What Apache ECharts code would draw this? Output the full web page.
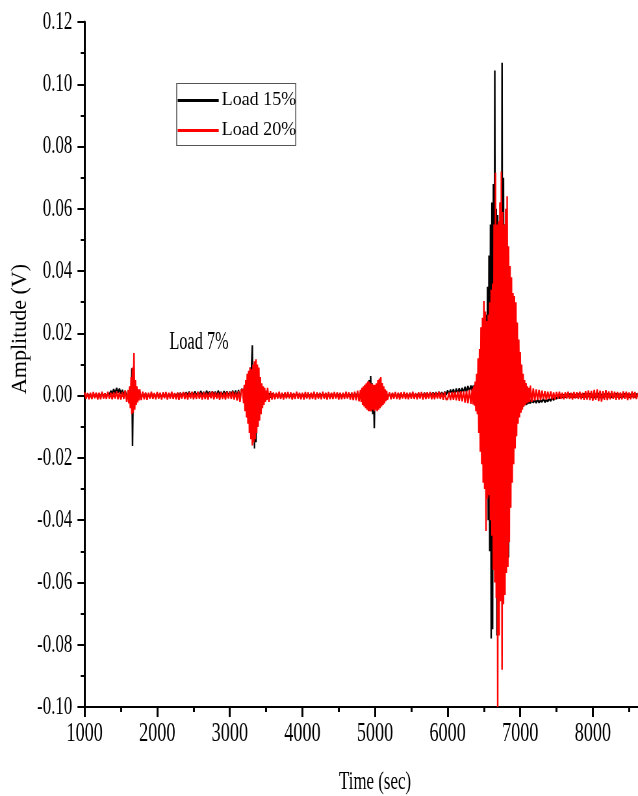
<!DOCTYPE html>
<html>
<head>
<meta charset="utf-8">
<script src="https://cdn.jsdelivr.net/npm/echarts@6/dist/echarts.min.js"></script>
<style>
  html, body { margin: 0; padding: 0; background: #fff; overflow: hidden; }
  #wrap { width: 638px; height: 796px; overflow: hidden; }
  /* the axis text is condensed horizontally: the chart is laid out wider and squeezed */
  #chart { width: 982px; height: 796px; transform-origin: 0 0; }
</style>
</head>
<body>
<div id="wrap"><div id="chart"></div></div>
<script>
// Coarse sampling grid of both recordings (sec)
const T_START = 1000;
const T_STEP = 20;
// Fine sampling used inside the emission bursts (sec)
const BURST_STEP = 10;
const BURST_START = { A: 1600, B: 3180, C: 4800, D: 6340 };

// Amplitudes in mV on the coarse grid (values inside burst windows are superseded by the fine ones)
const load15_mV = [
  0.5,-0.4,0.6,-0.3,0.4,-0.6,0.5,-0.2,0.6,-0.4,
  0.5,-0.3,0.7,-0.2,0.6,-0.4,0.8,0.2,1.5,0.6,
  2.0,0.8,2.4,1.0,2.2,0.6,1.8,0.2,1.5,-0.5,
  1.5,-2.0,8.8,-16.2,3.0,-2.0,1.2,-0.8,0.6,-0.4,
  0.5,-0.3,0.6,-0.4,0.4,-0.5,0.6,-0.2,0.5,-0.4,
  0.6,-0.3,0.5,-0.5,0.7,-0.2,0.4,-0.4,0.6,-0.3,
  0.5,-0.4,0.6,-0.2,0.7,0.0,0.8,-0.1,0.9,0.1,
  1.0,0.2,1.2,0.0,0.9,0.3,1.3,0.1,1.0,0.2,
  1.4,0.3,1.1,0.0,1.5,0.4,1.2,0.1,1.3,0.2,
  1.2,0.0,1.5,0.3,1.1,0.1,1.4,0.2,1.3,0.0,
  1.2,0.3,1.5,0.1,1.6,-0.5,1.8,-1.0,2.0,-1.5,
  3.0,-4.0,5.0,-7.0,-5.0,16.2,-12.0,9.0,-17.0,7.0,
  -10.0,5.0,-4.0,2.0,-1.5,1.0,-0.8,0.6,-0.5,0.4,
  0.5,-0.4,0.6,-0.3,0.4,-0.5,0.5,-0.2,0.6,-0.4,
  0.4,-0.5,0.6,-0.3,0.5,-0.4,0.7,-0.2,0.5,-0.5,
  0.6,-0.3,0.4,-0.5,0.6,-0.2,0.5,-0.4,0.6,-0.3,
  0.5,-0.4,0.7,-0.2,0.5,-0.5,0.6,-0.3,0.4,-0.4,
  0.6,-0.2,0.5,-0.4,0.7,-0.3,0.6,-0.5,0.5,-0.3,
  0.5,-0.4,0.6,-0.3,0.7,-0.5,0.8,-0.6,1.0,-0.8,
  -1.0,1.5,-2.0,2.5,-3.0,4.0,-4.5,6.3,2.0,-10.5,
  3.0,-4.0,2.0,-2.0,2.5,-2.0,1.5,-1.0,0.8,-0.6,
  0.5,-0.4,0.6,-0.3,0.5,-0.5,0.6,-0.2,0.4,-0.4,
  0.6,-0.3,0.5,-0.4,0.7,-0.2,0.6,-0.3,0.5,-0.2,
  0.7,-0.1,0.6,-0.2,0.8,0.0,0.7,-0.1,0.9,0.0,
  0.9,0.1,1.0,0.0,1.1,0.2,1.0,0.1,1.2,0.3,
  1.6,0.4,1.9,0.6,2.0,0.5,2.2,0.7,2.3,0.8,
  2.4,1.0,2.8,1.2,3.0,1.4,3.2,1.5,3.5,2.0,
  -2.0,8.0,-12.0,15.0,-20.0,22.0,-28.0,26.0,-30.0,55.0,
  -78.0,68.0,-40.0,104.4,-70.0,50.0,-45.0,60.0,106.9,-60.0,
  40.0,-52.0,31.0,-31.0,20.0,-15.0,12.0,-10.0,6.0,-6.0,
  3.0,-4.0,1.0,-3.0,-1.0,-2.5,-1.2,-2.4,-1.5,-2.2,
  -1.4,-2.3,-1.2,-2.2,-1.5,-2.0,-1.0,-2.1,-1.3,-1.8,
  -0.9,-1.7,-0.6,-1.4,-0.3,-1.0,0.0,-0.8,0.2,-0.6,
  0.3,-0.5,0.4,-0.3,0.5,-0.4,0.4,-0.5,0.3,-0.4,
  0.5,-0.3,0.4,-0.5,0.6,-0.4,0.5,-0.3,0.6,-0.5,
  0.4,-0.6,0.5,-0.4,0.7,-0.5,0.4,-0.6,0.5,-0.3,
  0.6,-0.4,0.5,-0.5,0.4,-0.3,0.6,-0.4,0.5,-0.5,
  0.4,-0.4,0.6,-0.3,0.5,-0.5,0.4,-0.3,0.5,-0.4,
  0.5,-0.3
];

const load20_mV = [
  1.0,-0.9,0.8,-1.1,0.9,-1.0,1.1,-0.8,0.9,-1.2,
  0.9,-1.1,1.2,-0.9,0.7,-1.0,1.2,-0.9,0.9,-1.1,
  1.0,-0.9,1.3,-1.1,1.0,-1.2,1.1,-1.0,1.6,-2.0,
  3.0,-5.0,6.0,-6.0,13.7,-4.5,4.0,-2.5,2.0,-1.4,
  1.2,-1.1,1.0,-1.3,0.9,-0.9,1.2,-1.0,0.8,-1.1,
  1.1,-0.9,0.9,-1.2,1.0,-0.8,1.1,-1.2,0.9,-0.9,
  1.2,-1.0,0.8,-1.1,1.0,-1.3,0.9,-0.9,1.1,-1.0,
  0.9,-1.2,1.0,-0.9,1.2,-1.1,0.8,-1.0,1.2,-0.9,
  0.9,-1.2,1.1,-1.0,0.9,-1.2,1.0,-0.8,1.3,-1.1,
  1.0,-0.9,0.9,-1.3,1.1,-1.0,0.9,-1.2,1.2,-0.9,
  1.1,-1.0,1.3,-1.2,1.0,-1.5,1.4,-2.0,1.8,-2.4,
  3.5,-5.0,7.0,-9.0,9.0,-12.0,6.0,-16.0,11.7,-12.0,
  9.0,-8.0,6.0,-5.0,4.0,-3.0,2.5,-2.0,1.4,-1.2,
  1.0,-1.1,0.9,-0.9,1.2,-1.0,0.9,-1.2,1.0,-0.9,
  1.1,-0.9,1.0,-1.2,0.8,-1.0,1.2,-0.9,0.9,-1.1,
  0.9,-1.2,1.1,-0.9,1.0,-1.1,0.9,-1.0,1.2,-1.2,
  1.0,-0.9,0.8,-1.1,1.2,-0.9,0.9,-1.2,1.1,-1.0,
  0.9,-1.0,1.1,-0.9,1.0,-1.2,0.9,-1.1,0.9,-1.0,
  1.2,-0.9,1.0,-1.2,1.0,-1.4,1.2,-1.5,1.6,-1.8,
  2.0,-2.5,2.8,-3.5,3.5,-4.5,4.5,-5.0,4.0,-4.5,
  3.0,-5.0,4.0,-3.5,6.0,-3.0,3.0,-2.2,1.6,-1.3,
  1.0,-1.1,0.9,-0.9,1.1,-1.0,0.9,-1.2,1.0,-0.9,
  1.1,-1.0,0.9,-1.1,0.9,-0.9,1.2,-1.0,0.8,-1.1,
  1.0,-0.9,1.1,-1.2,0.9,-1.0,1.0,-0.9,1.1,-1.1,
  0.9,-1.1,1.0,-0.9,1.2,-1.0,0.9,-1.3,1.1,-1.2,
  -1.1,1.0,-1.4,1.1,-1.3,1.2,-1.5,1.3,-1.6,1.4,
  -1.8,1.4,-2.2,1.5,-2.4,1.8,-2.6,2.3,-3.0,4.5,
  -6.0,12.0,-18.0,22.0,-28.0,30.4,-43.5,25.0,-32.0,36.0,
  -40.0,50.0,-56.0,71.6,-100.0,55.0,-66.0,72.0,-88.0,59.0,
  -67.0,64.0,-57.0,41.6,-47.0,40.0,-28.0,32.0,-20.0,23.5,
  -11.0,16.5,-6.5,8.0,-3.5,5.3,-2.5,3.2,-2.0,2.3,
  -1.6,2.0,-1.3,1.8,-1.4,1.6,-1.1,1.4,-1.3,1.2,
  -1.0,1.3,-1.1,1.0,-1.2,1.1,-0.9,1.2,-1.0,0.9,
  -1.1,1.0,-0.9,1.2,-1.0,0.9,-1.2,1.1,-0.9,1.0,
  -1.0,1.2,-1.1,0.9,-1.3,1.4,-1.2,1.6,-1.4,1.5,
  -1.6,1.8,-1.3,2.0,-1.7,1.6,-1.9,1.4,-1.3,1.7,
  -1.4,1.3,-1.1,1.5,-1.0,1.2,-1.3,1.1,-1.2,1.0,
  -1.1,1.3,-1.0,1.2,-1.4,1.0,-1.1,1.3,-0.9,1.1,
  -1.0,0.9
];

// Fine-grid burst samples, mV
const load15_A = [-0.5,1.5,-1.0,2.0,-2.0,8.8,-16.2,3.5,-3.0,2.0,-2.0,1.2,-1.0,0.8,-0.6,0.5];
const load20_A = [1.8,-2.5,3.0,-4.0,6.0,-6.0,9.0,-5.5,13.7,-4.5,5.0,-3.0,3.0,-2.2,2.0,-1.5];

const load15_B = [
  1.8,-1.0,3.0,-3.0,4.0,-5.0,5.0,-7.0,7.0,-8.0,9.0,-6.0,10.0,16.2,-12.0,9.0,-17.0,
  8.0,-15.0,7.0,-10.0,6.0,-8.0,5.0,-5.0,3.5,-3.0,2.5,-2.0,1.5,-1.2,1.0,-0.8,0.6
];
const load20_B = [
  1.8,-2.4,3.5,-5.0,5.0,-7.0,7.0,-9.0,8.0,-12.0,9.0,-14.0,8.5,-16.0,10.0,-15.0,11.0,
  -14.0,11.7,-12.0,10.0,-10.0,9.0,-8.0,6.0,-6.0,4.0,-4.0,3.0,-3.0,2.5,-2.0,1.6,-1.4
];

const load15_C = [
  0.8,-1.0,1.5,-1.5,2.0,-2.0,2.5,-2.5,3.0,-3.5,4.0,-4.0,5.0,-4.5,6.3,-5.0,4.0,-6.0,3.0,
  -10.5,3.0,-4.0,2.5,-3.0,2.0,-2.5,2.0,-2.0,1.8,-1.5,1.5,-1.2,1.0,-0.8,0.8,-0.6,0.6,-0.5
];
const load20_C = [
  1.8,-2.0,2.5,-3.0,3.0,-3.5,3.5,-4.0,4.0,-4.5,4.5,-5.0,4.5,-5.0,4.0,-5.0,3.8,-4.5,3.5,
  -5.0,3.5,-4.5,4.0,-5.0,5.0,-4.5,5.5,-4.0,6.0,-3.5,4.0,-3.0,3.0,-2.5,2.0,-1.8,1.5,-1.3
];

const load15_D = [
  1.4,3.2,1.5,3.4,1.0,4.0,-2.0,6.0,-5.0,8.0,
  -12.0,12.0,-15.0,15.0,-20.0,18.0,-25.0,22.0,-28.0,26.0,
  -30.0,35.0,-40.0,45.0,-50.0,55.0,-78.0,62.0,-75.0,68.0,
  -45.0,104.4,-50.0,60.0,-77.0,58.0,-60.0,55.0,-55.0,62.0,
  -55.0,106.9,-60.0,70.0,-55.0,55.0,-50.0,45.0,-45.0,31.0,
  -52.0,31.0,-31.0,25.0,-20.0,20.0,-15.0,15.0,-12.0,12.0,
  -10.0,8.0,-8.0,6.0,-6.0,4.0,-5.0,3.0,-4.0,1.0,
  -3.5,0.0,-3.0,-0.5,-3.0,-1.0,-2.8,-1.0,-2.5,-1.2
];
const load20_D = [
  2.2,-2.8,3.0,-3.2,4.5,-5.0,7.0,-6.0,12.0,-12.0,
  15.0,-18.0,22.0,-22.0,25.0,-28.0,30.4,-30.0,27.0,-43.5,
  24.0,-33.0,26.0,-32.0,30.0,-40.0,34.0,-45.0,36.0,-56.0,
  55.0,-60.0,71.6,-65.0,55.0,-100.0,56.0,-77.0,62.0,-66.0,
  72.0,-88.0,59.0,-67.0,55.0,-64.0,60.0,-57.0,64.0,-55.0,
  48.0,-47.0,41.6,-36.0,38.0,-28.0,33.0,-22.0,32.0,-17.0,
  30.0,-13.0,23.5,-9.0,18.0,-7.0,14.0,-5.5,10.0,-4.5,
  7.0,-3.5,5.0,-3.0,4.0,-2.5,3.0,-2.2,2.5,-2.0
];

const seriesNames = ['Load 15%', 'Load 20%'];
const seriesColors = ['#000000', '#ff0000'];
const xTicks = { min: 1000, max: 9000, step: 1000 };
const yTicks = { min: -0.10, max: 0.12, step: 0.02 };
const xTitle = 'Time (sec)';
const yTitle = 'Amplitude (V)';
const note = { text: 'Load 7%', t: 2576, v: 0.0172 };

// horizontal squeeze of the whole drawing
const PAGE_W = 638, CANVAS_W = 982;
const SX = PAGE_W / CANVAS_W;
const el = document.getElementById('chart');
el.style.transform = 'scaleX(' + SX + ')';

// merge coarse samples with the fine burst samples, converting mV to V
function buildSeries(coarse, bursts) {
  const windows = bursts.map(b => [b.t0, b.t0 + b.mV.length * BURST_STEP]);
  const out = [];
  coarse.forEach((v, i) => {
    const t = T_START + i * T_STEP;
    if (!windows.some(w => t >= w[0] && t < w[1])) out.push([t, v / 1000]);
  });
  bursts.forEach(b => b.mV.forEach((v, j) => out.push([b.t0 + j * BURST_STEP, v / 1000])));
  out.sort((a, b) => a[0] - b[0]);
  return out;
}

const data15 = buildSeries(load15_mV, [
  { t0: BURST_START.A, mV: load15_A }, { t0: BURST_START.B, mV: load15_B },
  { t0: BURST_START.C, mV: load15_C }, { t0: BURST_START.D, mV: load15_D }
]);
const data20 = buildSeries(load20_mV, [
  { t0: BURST_START.A, mV: load20_A }, { t0: BURST_START.B, mV: load20_B },
  { t0: BURST_START.C, mV: load20_C }, { t0: BURST_START.D, mV: load20_D }
]);

const SERIF = '"Liberation Serif", "Times New Roman", serif';
const chart = echarts.init(el, null, { renderer: 'canvas' });

chart.setOption({
  animation: false,
  backgroundColor: '#ffffff',
  grid: { left: 84.6 / SX, right: CANVAS_W - (84.6 / SX + 8 * 72.6 / SX), top: 22, bottom: 89, outerBoundsMode: 'none' },
  xAxis: {
    type: 'value', min: xTicks.min, max: xTicks.max, interval: xTicks.step,
    axisLine: { onZero: false, lineStyle: { color: '#000', width: 2 } },
    axisTick: { length: 10, lineStyle: { color: '#000', width: 3 } },
    minorTick: { show: true, splitNumber: 2, length: 5, lineStyle: { color: '#000', width: 3 } },
    splitLine: { show: false },
    axisLabel: { color: '#000', fontFamily: SERIF, fontSize: 28, margin: 13, formatter: v => String(v) },
    name: xTitle, nameLocation: 'middle', nameGap: 62,
    nameTextStyle: { color: '#000', fontFamily: SERIF, fontSize: 26 }
  },
  yAxis: {
    type: 'value', min: yTicks.min, max: yTicks.max, interval: yTicks.step,
    axisLine: { onZero: false, lineStyle: { color: '#000', width: 3 } },
    axisTick: { length: 11, lineStyle: { color: '#000', width: 2 } },
    minorTick: { show: true, splitNumber: 2, length: 6, lineStyle: { color: '#000', width: 2 } },
    splitLine: { show: false },
    axisLabel: {
      color: '#000', fontFamily: SERIF, fontSize: 26, margin: 19,
      formatter: v => (Math.abs(v) < 1e-9 ? 0 : v).toFixed(2)
    }
  },
  series: [
    {
      name: seriesNames[0], type: 'line', data: data15,
      showSymbol: false, sampling: null, z: 2,
      lineStyle: { color: seriesColors[0], width: 2.4 }
    },
    {
      name: seriesNames[1], type: 'line', data: data20,
      showSymbol: false, sampling: null, z: 3,
      lineStyle: { color: seriesColors[1], width: 2.4 }
    }
  ]
});

// annotation, legend box and vertical axis title
const notePos = chart.convertToPixel({ gridIndex: 0 }, [note.t, note.v]);
chart.setOption({
  graphic: [
    {
      type: 'text', x: notePos[0], y: notePos[1], z: 10,
      style: { text: note.text, font: '25px ' + SERIF, fill: '#000', align: 'center', verticalAlign: 'middle' }
    },
    {
      type: 'text', x: 20 / SX, y: 329, rotation: Math.PI / 2, scaleY: 1 / SX, z: 10,
      style: { text: yTitle, font: '22px ' + SERIF, fill: '#000', align: 'center', verticalAlign: 'middle' }
    },
    {
      type: 'group', x: 176.7 / SX, y: 83.5, scaleX: 1 / SX, z: 10,
      children: [
        { type: 'rect', shape: { x: 0, y: 0, width: 119, height: 62 }, style: { fill: '#fff', stroke: '#555', lineWidth: 1 } },
        { type: 'line', shape: { x1: 1, y1: 17, x2: 42, y2: 17 }, style: { stroke: seriesColors[0], lineWidth: 3 } },
        { type: 'text', x: 45, y: 17, style: { text: seriesNames[0], font: '18px ' + SERIF, fill: '#000', verticalAlign: 'middle' } },
        { type: 'line', shape: { x1: 1, y1: 47, x2: 42, y2: 47 }, style: { stroke: seriesColors[1], lineWidth: 3 } },
        { type: 'text', x: 45, y: 47, style: { text: seriesNames[1], font: '18px ' + SERIF, fill: '#000', verticalAlign: 'middle' } }
      ]
    }
  ]
});
</script>
</body>
</html>
